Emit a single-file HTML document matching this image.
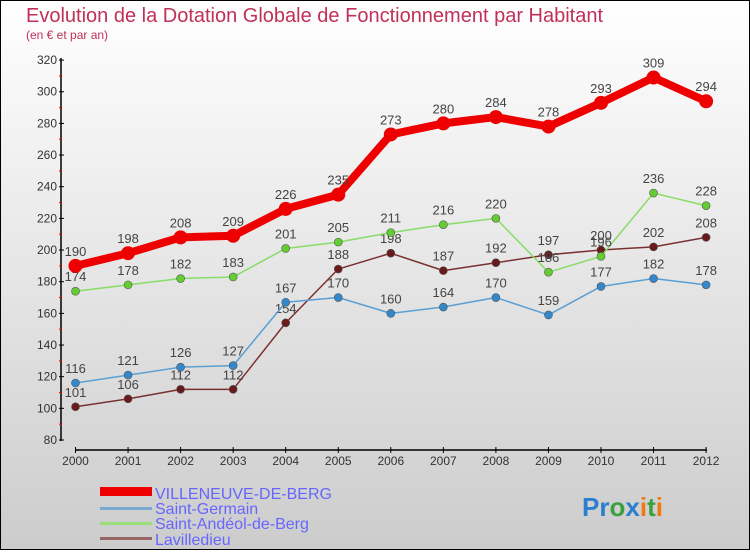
<!DOCTYPE html>
<html><head><meta charset="utf-8"><style>
body{margin:0}
svg text{font-family:"Liberation Sans",sans-serif}
</style></head><body>
<svg id="c" width="750" height="550" xmlns="http://www.w3.org/2000/svg">
<defs><linearGradient id="bg" x1="0" y1="0" x2="0" y2="1"><stop offset="0" stop-color="#ffffff"/><stop offset="1" stop-color="#cccccc"/></linearGradient></defs>
<rect x="0.5" y="0.5" width="749" height="549" fill="url(#bg)" stroke="#000"/>
<text x="26" y="22" font-size="20" fill="#c0305a">Evolution de la Dotation Globale de Fonctionnement par Habitant</text>
<text x="26" y="39" font-size="12" fill="#c0305a">(en € et par an)</text>
<g id="axes"></g><g id="series"></g>
<g>
<rect x="100" y="487" width="52" height="9" fill="#e00"/>
<text x="155" y="499" font-size="16" fill="#6666ff">VILLENEUVE-DE-BERG</text>
<rect x="100" y="507" width="52" height="3" fill="#7aaad0"/>
<text x="155" y="514" font-size="16" fill="#6666ff">Saint-Germain</text>
<rect x="100" y="522" width="52" height="3" fill="#99dd77"/>
<text x="155" y="529" font-size="16" fill="#6666ff">Saint-Andéol-de-Berg</text>
<rect x="100" y="537" width="52" height="3" fill="#996666"/>
<text x="155" y="545" font-size="16" fill="#6666ff">Lavilledieu</text>
</g>
<text x="582" y="516" font-size="26" font-weight="bold"><tspan fill="#2a7fd0">Pr</tspan><tspan fill="#3aa040">o</tspan><tspan fill="#2a7fd0">x</tspan><tspan fill="#f07a10">i</tspan><tspan fill="#3aa040">t</tspan><tspan fill="#f07a10">i</tspan></text>
</svg>
<script>
const years=[2000,2001,2002,2003,2004,2005,2006,2007,2008,2009,2010,2011,2012];
const villeneuve=[190,198,208,209,226,235,273,280,284,278,293,309,294];
const saintGermain=[116,121,126,127,167,170,160,164,170,159,177,182,178];
const saintAndeol=[174,178,182,183,201,205,211,216,220,186,196,236,228];
const lavilledieu=[101,106,112,112,154,188,198,187,192,197,200,202,208];
const yTicks=[80,100,120,140,160,180,200,220,240,260,280,300,320];
const NS="http://www.w3.org/2000/svg";
const xs=i=>75.5+i*52.55;
const ys=v=>440-(v-80)*1.583;
function mk(p,t,a){const e=document.createElementNS(NS,t);for(const k in a)e.setAttribute(k,a[k]);p.appendChild(e);return e;}
const ax=document.getElementById('axes');
let l=mk(ax,'line',{x1:61,y1:58,x2:61,y2:441,stroke:'#000','stroke-width':1.5});


l=mk(ax,'line',{x1:75,y1:450,x2:707,y2:450,stroke:'#000','stroke-width':1.5});


yTicks.forEach((v,i)=>{const y=ys(v);
 mk(ax,'line',{x1:59,x2:64,y1:y,y2:y,stroke:'#000'});
 if(i<yTicks.length-1)mk(ax,'line',{x1:59,x2:62,y1:ys(v+10),y2:ys(v+10),stroke:'#e00'});
 const t=mk(ax,'text',{x:57,y:y+4,'font-size':12,'text-anchor':'end',fill:'#333'});t.textContent=v;
 
 
});
years.forEach((yr,i)=>{const x=xs(i);
 mk(ax,'line',{x1:x,x2:x,y1:447,y2:453,stroke:'#000'});
 const t=mk(ax,'text',{x:x,y:465,'font-size':12,'text-anchor':'middle',fill:'#333'});t.textContent=yr;
 
 
});
const sg=document.getElementById('series');
function series(name,data,color,dot,w,r){
 const g=mk(sg,'g',{});
 
 
 const p=mk(g,'polyline',{points:data.map((v,i)=>xs(i)+','+ys(v)).join(' '),fill:'none',stroke:color,'stroke-width':w,'stroke-linejoin':'round'});
 
 
 data.forEach((v,i)=>{
  const c=mk(g,'circle',{cx:xs(i),cy:ys(v),r:r,fill:dot,stroke:'#555','stroke-width':r>5?0:0.6});
  
  
  const t=mk(g,'text',{x:xs(i),y:ys(v)-10,'font-size':13,'text-anchor':'middle',fill:'#444'});t.textContent=v;
  
  
 });
}
series('lavilledieu',lavilledieu,'#7a3030','#6a1a1a',1.5,4);
series('saint-germain',saintGermain,'#5a9fd4','#3388cc',1.5,4);
series('saint-andeol',saintAndeol,'#88dd66','#66cc33',1.5,4);
series('villeneuve',villeneuve,'#ee0000','#ee0000',8,7);
</script>
</body></html>
